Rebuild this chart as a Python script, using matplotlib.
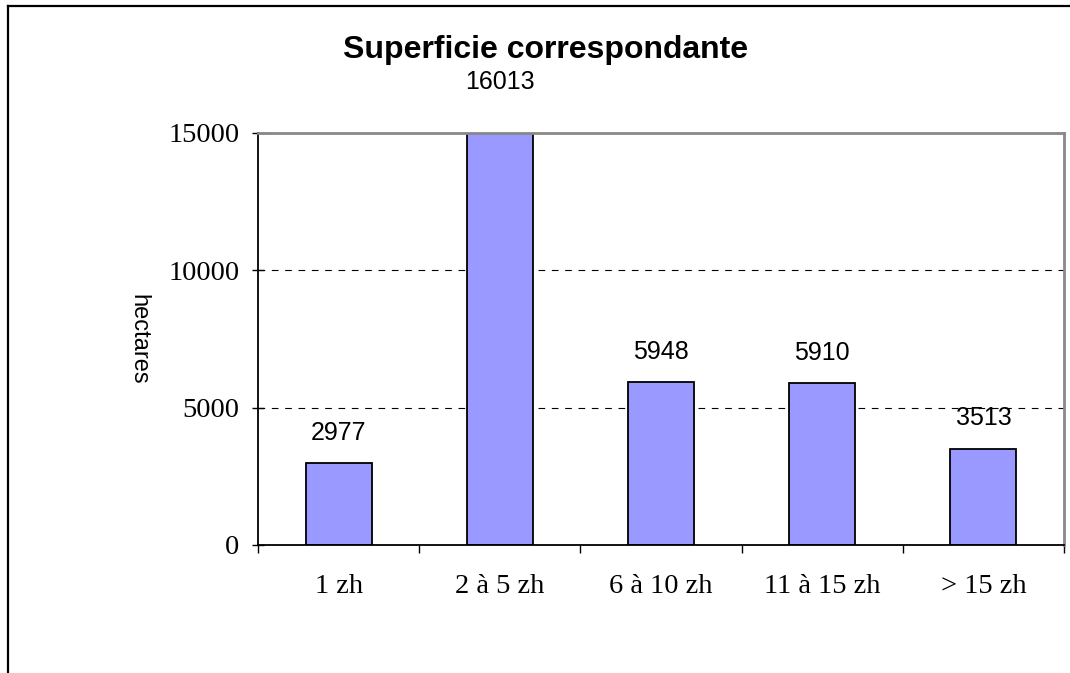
import matplotlib.pyplot as plt
from matplotlib.lines import Line2D
from matplotlib.ticker import FixedLocator

categories = ["1 zh", "2 à 5 zh", "6 à 10 zh", "11 à 15 zh", "> 15 zh"]
surface_ha = [2977, 16013, 5948, 5910, 3513]
y_ticks = [0, 5000, 10000, 15000]

SERIF = ["Liberation Serif", "DejaVu Serif"]
SANS = ["Liberation Sans", "DejaVu Sans"]

fig = plt.figure(figsize=(10.7, 6.73), dpi=100)
ax = fig.add_axes([258 / 1070, 1 - 545 / 673, (1064 - 258) / 1070, (545 - 133) / 673])

x = list(range(len(categories)))
ax.bar(x, surface_ha, width=0.41, color="#9999FF", edgecolor="black", linewidth=1.3, zorder=2)

for xi, v in zip(x, surface_ha):
    # labels of bars cut at the top of the plot sit a little lower
    off = 13 if v <= y_ticks[-1] else 8
    ax.annotate(str(v), (xi, v), xytext=(0, off), textcoords="offset points",
                ha="center", va="bottom", fontsize=18, family=SANS,
                annotation_clip=False)

ax.set_xlim(-0.5, len(categories) - 0.5)
ax.set_ylim(0, 15000)

# dashed gridlines behind the bars
for yv in y_ticks[1:-1]:
    ax.axhline(yv, color="black", linestyle=(0, (6, 6)), linewidth=0.8, zorder=1)

ax.set_yticks(y_ticks)
ax.set_yticklabels([str(t) for t in y_ticks], family=SERIF, fontsize=20.5)
ax.tick_params(axis="y", direction="inout", length=9, width=1, pad=9)

ax.xaxis.set_major_locator(FixedLocator([i - 0.5 for i in range(len(categories) + 1)]))
ax.xaxis.set_minor_locator(FixedLocator(x))
ax.set_xticklabels([], minor=False)
ax.set_xticklabels(categories, minor=True, family=SERIF, fontsize=20.5)
ax.tick_params(axis="x", which="major", direction="out", length=6, width=1)
ax.tick_params(axis="x", which="minor", length=0, pad=21)

ax.spines["left"].set_linewidth(1.3)
ax.spines["bottom"].set_linewidth(1.3)
for s in ("top", "right"):
    ax.spines[s].set_color("#888888")
    ax.spines[s].set_linewidth(2)
for s in ax.spines.values():
    s.set_zorder(4)

ax.set_ylabel("hectares", rotation=-90, family=SANS, fontsize=17)
ax.yaxis.set_label_coords(-0.162, 0.5)

fig.text(546 / 1070, 1 - 50 / 673, "Superficie correspondante", ha="center", va="center",
         fontsize=23, fontweight="bold", family=SANS)

# outer chart frame (left and top edges visible)
fig.add_artist(Line2D([8 / 1070, 8 / 1070], [0, 1 - 6 / 673], color="black", linewidth=1.6,
                      transform=fig.transFigure))
fig.add_artist(Line2D([8 / 1070, 1], [1 - 6 / 673, 1 - 6 / 673], color="black", linewidth=1.6,
                      transform=fig.transFigure))

fig.savefig("out.png", dpi=100)
